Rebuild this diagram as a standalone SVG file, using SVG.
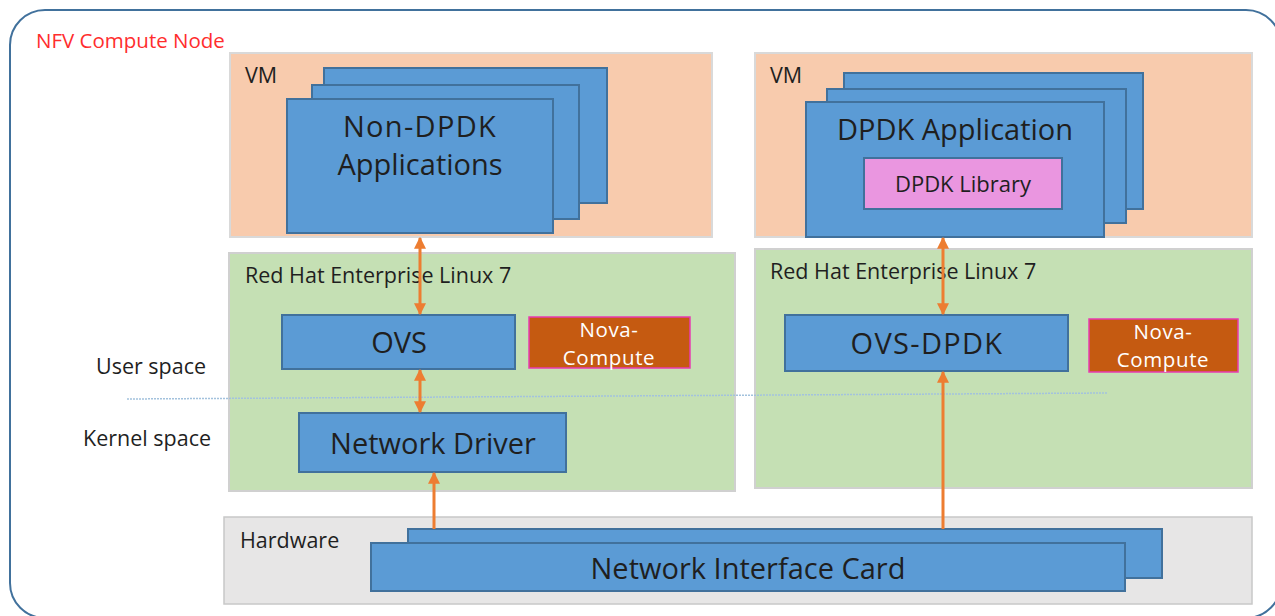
<svg xmlns="http://www.w3.org/2000/svg" width="1275" height="616" viewBox="0 0 1275 616">
<defs>
<style>
text{font-family:"Open Sans","Noto Sans","Liberation Sans",sans-serif;fill:#1f1f1f}
.vm{fill:#F8CBAD;stroke:#D9D9D9;stroke-width:2}
.os{fill:#C5E0B4;stroke:#D0D0D0;stroke-width:2}
.hw{fill:#E7E6E6;stroke:#C8C8C8;stroke-width:1.5}
.blue{fill:#5B9BD5;stroke:#41719C;stroke-width:2}
.nova{fill:#C55A11;stroke:#E83BB0;stroke-width:1.5}
.lib{fill:#EA96E0;stroke:#41719C;stroke-width:2}
.lbl{font-size:21.5px}
.big{font-size:29px;text-anchor:middle}
.sp{letter-spacing:1.3px}
.nt{font-size:20.5px;fill:#FFFFFF;text-anchor:middle;letter-spacing:0.6px}
.arr{stroke:#ED7D31;stroke-width:3;fill:none}
</style>
<marker id="ah" viewBox="0 0 10 10" refX="9" refY="5" markerWidth="4" markerHeight="4.5" orient="auto-start-reverse" markerUnits="strokeWidth">
<path d="M0,0 L10,5 L0,10 Z" fill="#ED7D31"/>
</marker>
</defs>

<g id="outer">
<rect x="10" y="10" width="1271" height="608" rx="35" ry="35" fill="#FFFFFF" stroke="#41719C" stroke-width="2"/>
<text x="36" y="48" style="font-size:20.5px;fill:#FF2D2D">NFV Compute Node</text>
</g>

<g id="vm-left">
<rect class="vm" x="230" y="53" width="482" height="184"/>
<text class="lbl" x="245" y="83">VM</text>
<rect class="blue" x="324" y="68" width="283" height="135"/>
<rect class="blue" x="312" y="85" width="267" height="134"/>
<rect class="blue" x="287" y="99" width="266" height="134"/>
<text class="big sp" x="420" y="137">Non-DPDK</text>
<text class="big" x="420" y="175">Applications</text>
</g>

<g id="vm-right">
<rect class="vm" x="755" y="53" width="497" height="184"/>
<text class="lbl" x="770" y="83">VM</text>
<rect class="blue" x="844" y="73" width="299" height="136"/>
<rect class="blue" x="827" y="89" width="299" height="134"/>
<rect class="blue" x="806" y="102" width="298" height="135"/>
<text class="big" x="955" y="140">DPDK Application</text>
<rect class="lib" x="864" y="158" width="198" height="51"/>
<text x="963" y="192" style="font-size:22px;text-anchor:middle">DPDK Library</text>
</g>

<g id="os-left">
<rect class="os" x="229" y="253" width="506" height="238"/>
<text class="lbl" x="245" y="283">Red Hat Enterprise Linux 7</text>
</g>

<g id="os-right">
<rect class="os" x="755" y="249" width="497" height="239"/>
<text class="lbl" x="770" y="279">Red Hat Enterprise Linux 7</text>
</g>

<g id="labels">
<text class="lbl" x="96" y="374">User space</text>
<text class="lbl" x="83" y="446">Kernel space</text>
</g>

<g id="divider">
<line x1="127" y1="399" x2="1108" y2="393" stroke="#A3C2DD" stroke-width="1.5" stroke-dasharray="2 1"/>
</g>

<g id="ovs">
<rect class="blue" x="282" y="315" width="233" height="54"/>
<text class="big" x="399" y="353">OVS</text>
</g>

<g id="nova-left">
<rect class="nova" x="529" y="317" width="161" height="51"/>
<text class="nt" x="609" y="337">Nova-</text>
<text class="nt" x="609" y="365">Compute</text>
</g>

<g id="network-driver">
<rect class="blue" x="299" y="413" width="267" height="59"/>
<text class="big" x="433" y="454">Network Driver</text>
</g>

<g id="ovs-dpdk">
<rect class="blue" x="785" y="315" width="283" height="56"/>
<text class="big sp" x="927" y="354">OVS-DPDK</text>
</g>

<g id="nova-right">
<rect class="nova" x="1089" y="319" width="149" height="53"/>
<text class="nt" x="1163" y="339">Nova-</text>
<text class="nt" x="1163" y="367">Compute</text>
</g>

<g id="hardware">
<rect class="hw" x="224" y="517" width="1028" height="87"/>
<text class="lbl" x="240" y="548">Hardware</text>
<rect class="blue" x="408" y="529" width="754" height="49"/>
<rect class="blue" x="371" y="543" width="754" height="48"/>
<text class="big" x="748" y="579">Network Interface Card</text>
</g>

<g id="connectors">
<line class="arr" x1="420" y1="238" x2="420" y2="314" marker-start="url(#ah)" marker-end="url(#ah)"/>
<line class="arr" x1="420" y1="370" x2="420" y2="412" marker-start="url(#ah)" marker-end="url(#ah)"/>
<line class="arr" x1="434" y1="529" x2="434" y2="473" marker-end="url(#ah)"/>
<line class="arr" x1="943" y1="238" x2="943" y2="314" marker-start="url(#ah)" marker-end="url(#ah)"/>
<line class="arr" x1="943" y1="529" x2="943" y2="372" marker-end="url(#ah)"/>
</g>
</svg>
